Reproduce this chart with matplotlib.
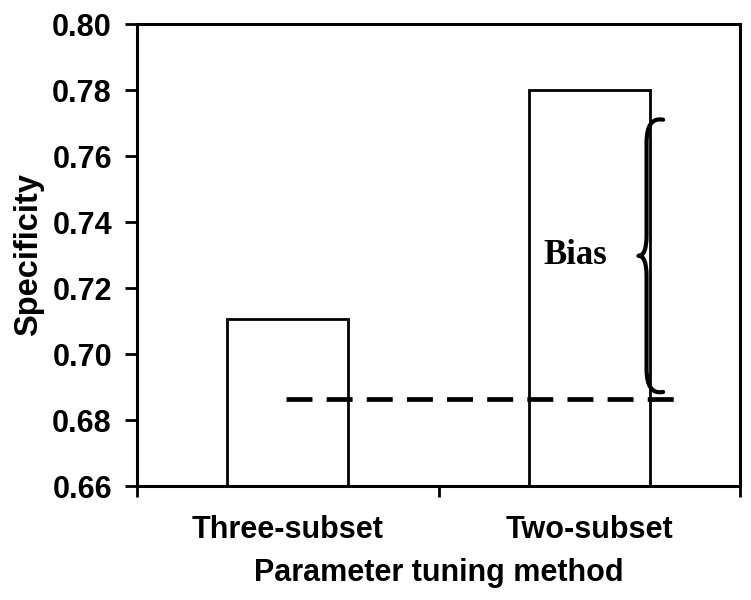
import matplotlib.pyplot as plt
from matplotlib.path import Path
from matplotlib.patches import PathPatch

# data
methods = ["Three-subset", "Two-subset"]
specificity = [0.7105, 0.780]
reference_level = 0.6865          # dashed line
bias_range = (0.6885, 0.7710)     # extent of the brace

plt.rcParams["font.family"] = ["Liberation Sans", "DejaVu Sans"]
plt.rcParams["font.weight"] = "bold"

fig = plt.figure(figsize=(7.51, 6.0), dpi=100)
ax = fig.add_axes([0.1824, 0.19, 0.8030, 0.77])

x = range(len(methods))
ax.bar(x, specificity, width=0.40, bottom=0, color="white",
       edgecolor="black", linewidth=2.0, zorder=2)

ax.plot([-0.005, 1.295], [reference_level, reference_level], color="black",
        lw=3.4, ls=(0, (5.5, 3.0)), zorder=3)

# curly brace for "Bias"
lo, hi = bias_range
mid = (lo + hi) / 2
xv, xt, xm = 1.19, 1.245, 1.163
verts = [(xt, hi), (xv, hi + 0.001), (xv, hi - 0.007),
         (xv, mid + 0.006), (xv, mid), (xm, mid),
         (xv, mid), (xv, mid - 0.006),
         (xv, lo + 0.007), (xv, lo - 0.001), (xt, lo)]
codes = [Path.MOVETO, Path.CURVE3, Path.CURVE3,
         Path.LINETO, Path.CURVE3, Path.CURVE3,
         Path.CURVE3, Path.CURVE3,
         Path.LINETO, Path.CURVE3, Path.CURVE3]
ax.add_patch(PathPatch(Path(verts, codes), facecolor="none",
                       edgecolor="black", lw=3.0, zorder=4,
                       capstyle="round", joinstyle="round"))
ax.text(0.953, mid, "Bias", family=["Liberation Serif"], weight="bold",
        fontsize=25, ha="center", va="center")

ax.set_xlim(-0.5, 1.5)
ax.set_ylim(0.66, 0.80)
ax.set_yticks([0.66 + 0.02 * i for i in range(8)])
ax.set_yticklabels([f"{0.66 + 0.02 * i:.2f}" for i in range(8)])
ax.set_xticks(list(x))
ax.set_xticklabels(methods)
ax.set_xticks([-0.5, 0.5, 1.5], minor=True)
ax.tick_params(axis="x", which="major", length=0, pad=21, labelsize=22)
ax.tick_params(axis="x", which="minor", length=8, width=2, direction="out")
ax.tick_params(axis="y", length=9, width=2, direction="out", pad=9,
               labelsize=22)

for s in ax.spines.values():
    s.set_linewidth(2.2)

ax.set_xlabel("Parameter tuning method", fontsize=22, weight="bold",
              labelpad=9.5)
ax.set_ylabel("Specificity", fontsize=23.5, weight="bold", labelpad=6)

fig.savefig("out.png", dpi=100)
